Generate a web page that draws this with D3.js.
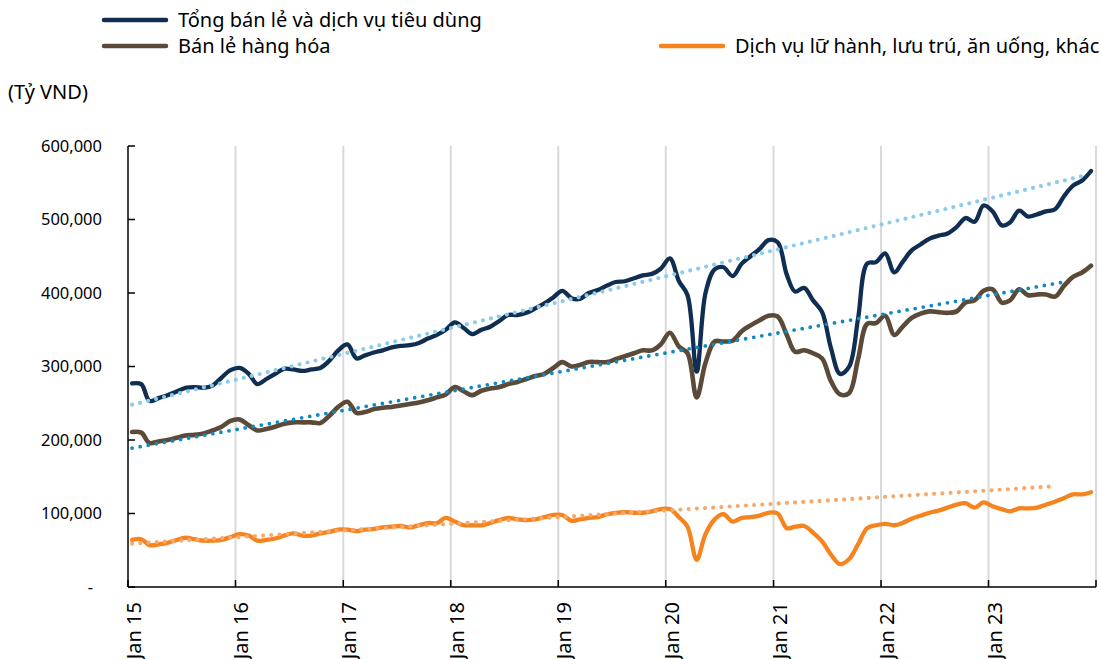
<!DOCTYPE html>
<html><head><meta charset="utf-8">
<script src="https://cdn.jsdelivr.net/npm/d3@7"></script>
<style>body{margin:0;background:#fff} svg{display:block;font-family:"Noto Sans",sans-serif}</style>
</head><body>
<svg id="c" width="1101" height="659"></svg>
<script>
// ---- data (Tỷ VND), monthly Jan 2015 – Dec 2023 ----
const seriesNames = ["Tổng bán lẻ và dịch vụ tiêu dùng", "Bán lẻ hàng hóa", "Dịch vụ lữ hành, lưu trú, ăn uống, khác"];
const totalRetail = [
 277000,276000,253000,257000,261000,266000,271000,272000,271000,274000,285000,295000,
 298000,290000,276000,283000,290000,297000,296000,294000,296000,298000,308000,322000,
 330000,311000,315000,319000,322000,326000,328000,329000,332000,338000,343000,350000,
 360000,352000,344000,350000,354000,362000,370000,370000,373000,379000,386000,394000,
 403000,393000,392000,400000,404000,410000,415000,416000,420000,424000,426000,433000,
 447000,416000,397000,293000,400000,432000,435000,423000,440000,450000,460000,472000,
 469000,425000,402000,407000,390000,374000,325000,290000,300000,365000,440000,442000,
 454000,428000,442000,458000,466000,474000,478000,481000,490000,502000,497000,519000,
 511000,492000,496000,512000,504000,507000,511000,514000,532000,546000,553000,566000];
const goodsRetail = [
 211000,210000,196000,198000,200000,203000,206000,207000,209000,213000,218000,226000,
 228000,220000,213000,215000,218000,222000,224000,224000,224000,223000,233000,245000,
 252000,237000,238000,242000,244000,245000,247000,249000,251000,254000,258000,262000,
 272000,266000,261000,267000,270000,272000,276000,279000,283000,287000,290000,298000,
 306000,300000,302000,306000,306000,306000,310000,314000,318000,322000,322000,330000,
 346000,327000,318000,258000,305000,334000,334000,335000,348000,356000,363000,369000,
 368000,343000,320000,322000,318000,311000,280000,262000,264000,310000,358000,359000,
 369000,343000,354000,366000,372000,375000,374000,373000,375000,387000,390000,403000,
 405000,387000,390000,405000,397000,398000,398000,395000,410000,422000,428000,437000];
const services = [
 64000,65000,57000,58000,60000,64000,67000,65000,63000,63000,64000,68000,
 72000,70000,63000,64000,66000,70000,73000,70000,70000,73000,75000,78000,
 78000,76000,78000,79000,81000,82000,83000,81000,84000,87000,87000,94000,
 89000,84000,84000,84000,87000,91000,94000,92000,91000,92000,95000,98000,
 98000,90000,92000,94000,95000,99000,101000,102000,101000,101000,103000,106000,
 106000,95000,82000,37000,72000,92000,99000,89000,94000,95000,97000,101000,
 100000,80000,82000,83000,74000,62000,44000,31000,38000,58000,80000,84000,
 86000,84000,87000,93000,97000,101000,104000,108000,112000,114000,108000,115000,
 110000,106000,103000,107000,107000,108000,112000,116000,121000,126000,126000,129000];
// linear trend lines: [value at first month, value at last month], last month index
const trendTotal = [248000, 559000];
const trendGoods = [189000, 415000];
const trendServices = [59000, 137000];
const trendEndMonth = [106, 104, 103];
// axes
const yTicks = [0,100000,200000,300000,400000,500000,600000];
const yTickLabels = ["-","100,000","200,000","300,000","400,000","500,000","600,000"];
const xTickYears = [2015,2016,2017,2018,2019,2020,2021,2022,2023,2024];
const xTickLabels = ["Jan 15","Jan 16","Jan 17","Jan 18","Jan 19","Jan 20","Jan 21","Jan 22","Jan 23",""];
const unitLabel = "(Tỷ VND)";

// ---- drawing ----
const svg = d3.select("#c");
const L = 128, R = 1096, T = 146, B = 587;
const monthDate = i => new Date(2015, i, 15);
const x = d3.scaleTime().domain([new Date(2015,0,1), new Date(2024,0,1)]).range([L, R]);
const y = d3.scaleLinear().domain([0, 600000]).range([B, T]);

// vertical gridlines
svg.append("g").selectAll("line").data(xTickYears.slice(1)).join("line")
  .attr("x1", d => x(new Date(d,0,1))).attr("x2", d => x(new Date(d,0,1)))
  .attr("y1", T).attr("y2", B).attr("stroke", "#d9d9d9").attr("stroke-width", 2);

const line = d3.line().x((d,i) => x(monthDate(i))).y(d => y(d)).curve(d3.curveCatmullRom.alpha(0.5));

const series = [
  {data: totalRetail, color: "#0f2e52", w: 4.3},
  {data: goodsRetail, color: "#5c4a38", w: 4.6},
  {data: services, color: "#f5841f", w: 4.3}
];
series.forEach(s => {
  svg.append("path").datum(s.data).attr("d", line)
    .attr("fill", "none").attr("stroke", s.color).attr("stroke-width", s.w)
    .attr("stroke-linejoin", "round").attr("stroke-linecap", "round");
});

const trends = [
  {v: trendTotal, end: trendEndMonth[0], color: "#8ccbec", w: 4.2},
  {v: trendGoods, end: trendEndMonth[1], color: "#0d89c4", w: 3.8},
  {v: trendServices, end: trendEndMonth[2], color: "#f9a86b", w: 4.2}
];
trends.forEach(t => {
  svg.append("line")
    .attr("x1", x(monthDate(0))).attr("y1", y(t.v[0]))
    .attr("x2", x(monthDate(t.end))).attr("y2", y(t.v[1]))
    .attr("stroke", t.color).attr("stroke-width", t.w)
    .attr("stroke-linecap", "round").attr("stroke-dasharray", "0,8.2");
});

// axes
svg.append("line").attr("x1", L).attr("x2", L).attr("y1", T).attr("y2", B)
  .attr("stroke", "#000").attr("stroke-width", 1.5);
svg.append("line").attr("x1", L).attr("x2", R).attr("y1", B).attr("y2", B)
  .attr("stroke", "#000").attr("stroke-width", 1.5);
svg.append("g").selectAll("line").data(yTicks).join("line")
  .attr("x1", L).attr("x2", L + 7).attr("y1", d => y(d)).attr("y2", d => y(d))
  .attr("stroke", "#000").attr("stroke-width", 1.5);
svg.append("g").selectAll("text").data(yTicks).join("text")
  .attr("x", d => d === 0 ? 93 : 102).attr("y", d => y(d)).attr("dy", "0.35em")
  .attr("text-anchor", "end").attr("font-size", 16.5).attr("fill", "#000")
  .text((d,i) => yTickLabels[i]);
svg.append("g").selectAll("line").data(xTickYears).join("line")
  .attr("x1", d => x(new Date(d,0,1))).attr("x2", d => x(new Date(d,0,1)))
  .attr("y1", B - 7).attr("y2", B).attr("stroke", "#000").attr("stroke-width", 1.5);
svg.append("g").selectAll("text").data(xTickYears).join("text")
  .attr("transform", d => `translate(${x(new Date(d,0,1)) + 13},602) rotate(-90)`)
  .attr("text-anchor", "end").attr("font-size", 20).attr("fill", "#000")
  .text((d,i) => xTickLabels[i]);

svg.append("text").attr("x", 8).attr("y", 99).attr("font-size", 20).text(unitLabel);

// legend
const legend = [
  {name: seriesNames[0], color: series[0].color, lx: 104, ly: 20},
  {name: seriesNames[1], color: series[1].color, lx: 104, ly: 46},
  {name: seriesNames[2], color: series[2].color, lx: 661, ly: 46}
];
legend.forEach(l => {
  svg.append("line").attr("x1", l.lx).attr("x2", l.lx + 62).attr("y1", l.ly).attr("y2", l.ly)
    .attr("stroke", l.color).attr("stroke-width", 4.5).attr("stroke-linecap", "round");
  svg.append("text").attr("x", l.lx + 74).attr("y", l.ly).attr("dy", "0.35em")
    .attr("font-size", 20).attr("fill", "#000").text(l.name);
});
</script>
</body></html>
